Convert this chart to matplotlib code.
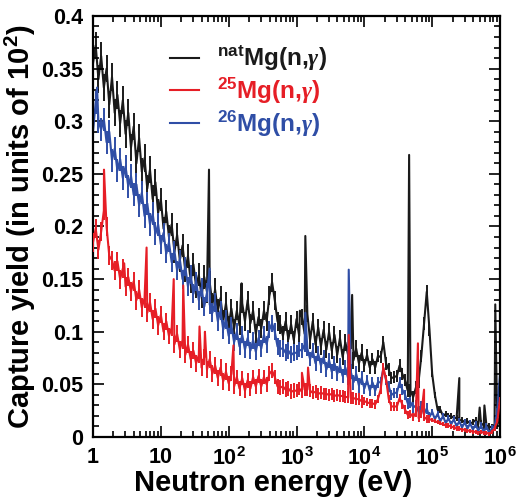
import numpy as np
import matplotlib
matplotlib.use("Agg")
import matplotlib.pyplot as plt
from matplotlib.ticker import FixedLocator, MultipleLocator, LogLocator, NullFormatter

plt.rcParams["font.family"] = ["Liberation Sans", "DejaVu Sans"]
plt.rcParams["font.weight"] = "bold"
plt.rcParams["mathtext.fontset"] = "custom"
plt.rcParams["mathtext.rm"] = "Liberation Sans:bold"
plt.rcParams["mathtext.bf"] = "Liberation Sans:bold"
plt.rcParams["mathtext.it"] = "Liberation Serif:italic"
plt.rcParams["mathtext.default"] = "bf"

# log10 of the bin centres, 0.04 decade bins from 1 eV to 1 MeV
log_e = np.linspace(0, 6, 151)

nat_yield = [
    0.355, 0.372, 0.340, 0.362, 0.332, 0.350, 0.316, 0.342, 0.308, 0.325,
    0.298, 0.320, 0.288, 0.308, 0.275, 0.295, 0.260, 0.284, 0.252, 0.265,
    0.236, 0.254, 0.226, 0.242, 0.213, 0.226, 0.198, 0.214, 0.190, 0.202,
    0.176, 0.192, 0.168, 0.182, 0.158, 0.172, 0.148, 0.164, 0.143, 0.154,
    0.134, 0.152, 0.138, 0.147, 0.126, 0.140, 0.120, 0.132, 0.110, 0.127,
    0.106, 0.122, 0.103, 0.120, 0.106, 0.127, 0.110, 0.130, 0.108, 0.120,
    0.098, 0.114, 0.103, 0.120, 0.110, 0.134, 0.147, 0.130, 0.110, 0.107,
    0.096, 0.110, 0.093, 0.107, 0.092, 0.112, 0.096, 0.114, 0.098, 0.117,
    0.092, 0.110, 0.088, 0.104, 0.086, 0.102, 0.083, 0.100, 0.082, 0.097,
    0.078, 0.094, 0.076, 0.090, 0.078, 0.092, 0.073, 0.084, 0.070, 0.080,
    0.068, 0.078, 0.066, 0.074, 0.066, 0.077, 0.076, 0.090, 0.070, 0.064,
    0.056, 0.057, 0.058, 0.068, 0.060, 0.054, 0.044, 0.044, 0.038, 0.047,
    0.053, 0.077, 0.108, 0.138, 0.102, 0.060, 0.040, 0.026, 0.026, 0.020,
    0.022, 0.020, 0.020, 0.018, 0.018, 0.016, 0.016, 0.014, 0.015, 0.013,
    0.014, 0.016, 0.012, 0.013, 0.011, 0.011, 0.010, 0.009, 0.012, 0.011,
    0.020,
]
mg25_yield = [
    0.185, 0.198, 0.178, 0.195, 0.215, 0.200, 0.172, 0.168, 0.158, 0.167,
    0.150, 0.160, 0.143, 0.152, 0.138, 0.148, 0.130, 0.140, 0.123, 0.132,
    0.118, 0.128, 0.112, 0.122, 0.106, 0.116, 0.100, 0.110, 0.096, 0.104,
    0.088, 0.098, 0.083, 0.092, 0.078, 0.088, 0.074, 0.082, 0.070, 0.078,
    0.066, 0.076, 0.064, 0.074, 0.060, 0.068, 0.056, 0.066, 0.053, 0.062,
    0.051, 0.060, 0.048, 0.057, 0.046, 0.056, 0.044, 0.054, 0.046, 0.057,
    0.048, 0.058, 0.048, 0.057, 0.050, 0.060, 0.063, 0.057, 0.048, 0.047,
    0.048, 0.045, 0.046, 0.043, 0.044, 0.044, 0.046, 0.043, 0.045, 0.045,
    0.044, 0.042, 0.043, 0.041, 0.042, 0.041, 0.041, 0.040, 0.041, 0.039,
    0.040, 0.039, 0.039, 0.038, 0.038, 0.037, 0.037, 0.036, 0.036, 0.034,
    0.034, 0.033, 0.032, 0.032, 0.031, 0.036, 0.045, 0.066, 0.055, 0.036,
    0.029, 0.029, 0.029, 0.037, 0.031, 0.026, 0.021, 0.022, 0.019, 0.023,
    0.018, 0.022, 0.019, 0.017, 0.017, 0.016, 0.015, 0.014, 0.013, 0.012,
    0.011, 0.011, 0.010, 0.009, 0.008, 0.008, 0.007, 0.007, 0.006, 0.006,
    0.005, 0.005, 0.004, 0.005, 0.004, 0.004, 0.003, 0.005, 0.008, 0.015,
    0.036,
]
mg26_yield = [
    0.290, 0.318, 0.300, 0.292, 0.302, 0.280, 0.290, 0.263, 0.274, 0.253,
    0.264, 0.246, 0.257, 0.238, 0.248, 0.230, 0.240, 0.220, 0.232, 0.210,
    0.222, 0.202, 0.212, 0.193, 0.202, 0.183, 0.194, 0.174, 0.185, 0.166,
    0.177, 0.158, 0.169, 0.150, 0.162, 0.143, 0.154, 0.136, 0.148, 0.130,
    0.142, 0.124, 0.137, 0.126, 0.118, 0.128, 0.110, 0.120, 0.102, 0.112,
    0.096, 0.106, 0.090, 0.100, 0.086, 0.097, 0.083, 0.094, 0.082, 0.092,
    0.081, 0.094, 0.084, 0.097, 0.088, 0.102, 0.108, 0.100, 0.086, 0.084,
    0.084, 0.080, 0.082, 0.078, 0.080, 0.080, 0.083, 0.082, 0.088, 0.084,
    0.074, 0.082, 0.070, 0.079, 0.068, 0.076, 0.064, 0.073, 0.062, 0.070,
    0.060, 0.068, 0.058, 0.066, 0.056, 0.062, 0.052, 0.060, 0.049, 0.056,
    0.046, 0.054, 0.044, 0.052, 0.044, 0.052, 0.052, 0.065, 0.054, 0.048,
    0.040, 0.042, 0.042, 0.052, 0.045, 0.040, 0.032, 0.033, 0.028, 0.030,
    0.024, 0.029, 0.022, 0.027, 0.019, 0.024, 0.017, 0.022, 0.015, 0.020,
    0.013, 0.018, 0.012, 0.017, 0.010, 0.015, 0.009, 0.014, 0.008, 0.013,
    0.007, 0.012, 0.006, 0.011, 0.005, 0.010, 0.004, 0.008, 0.010, 0.025,
    0.060,
]

# statistical error bar (half length) per decade, 1-10 eV ... 0.1-1 MeV
nat_err = [0.013, 0.011, 0.009, 0.008, 0.006, 0.003]
mg25_err = [0.009, 0.008, 0.007, 0.006, 0.004, 0.002]
mg26_err = [0.011, 0.009, 0.008, 0.007, 0.005, 0.003]

# narrow resonances (log10 E, yield)
nat_peak_log = [1.71, 2.19, 3.05, 3.13, 3.82, 4.66, 5.40, 5.70, 5.77, 5.93]
nat_peak_y = [0.254, 0.146, 0.120, 0.191, 0.135, 0.268, 0.056, 0.028, 0.030, 0.126]
mg25_peak_log = [0.162, 0.46, 0.79, 1.19, 1.33, 1.57, 1.65, 2.07, 3.08, 3.17, 3.77, 4.79, 4.88]
mg25_peak_y = [0.254, 0.165, 0.180, 0.150, 0.144, 0.105, 0.100, 0.087, 0.061, 0.066, 0.097, 0.089, 0.045]
mg26_peak_log = [0.06, 1.72, 3.13, 3.77]
mg26_peak_y = [0.332, 0.160, 0.118, 0.159]

labels = [r"$^{nat}$Mg(n,$\mathit{\gamma}$)", r"$^{25}$Mg(n,$\mathit{\gamma}$)",
          r"$^{26}$Mg(n,$\mathit{\gamma}$)"]
colors = ["#1a1a1a", "#e61e26", "#2f4ea6"]


def merge(base, err, plog, py):
    dec = np.minimum(log_e.astype(int), 5)
    lg = np.concatenate([log_e, plog])
    yy = np.concatenate([base, py])
    ee = np.concatenate([np.array(err)[dec], np.zeros(len(py))])
    order = np.argsort(lg)
    return 10 ** lg[order], yy[order], ee[order]


fig = plt.figure(figsize=(5.26, 4.99), dpi=100)
ax = fig.add_axes([0.1768, 0.1242, 0.7738, 0.8438])

series = [
    (nat_yield, nat_err, nat_peak_log, nat_peak_y),
    (mg25_yield, mg25_err, mg25_peak_log, mg25_peak_y),
    (mg26_yield, mg26_err, mg26_peak_log, mg26_peak_y),
]
lines = []
for (base, err, plog, py), lab, col, z in zip(series, labels, colors, [1, 3, 2]):
    x, y, e = merge(base, err, plog, py)
    ax.errorbar(x, y, yerr=e, fmt="none", ecolor=col, elinewidth=1.4, zorder=z)
    ln, = ax.plot(x, y, color=col, lw=1.5, label=lab, zorder=z)
    lines.append(ln)

ax.set_xscale("log")
ax.set_xlim(1, 1e6)
ax.set_ylim(0, 0.4)

ax.xaxis.set_major_locator(FixedLocator([1, 10, 1e2, 1e3, 1e4, 1e5, 1e6]))
ax.set_xticklabels(["1", "10", "10$^{2}$", "10$^{3}$", "10$^{4}$", "10$^{5}$", "10$^{6}$"])
ax.xaxis.set_minor_locator(LogLocator(base=10, subs=np.arange(2, 10), numticks=20))
ax.xaxis.set_minor_formatter(NullFormatter())
ax.yaxis.set_major_locator(MultipleLocator(0.05))
ax.yaxis.set_minor_locator(MultipleLocator(0.01))
ax.set_yticklabels([f"{v:g}" for v in ax.get_yticks()])

ax.tick_params(which="both", direction="in", top=True, right=True, labelsize=15.5, width=1.2)
ax.tick_params(which="major", length=8, pad=7)
ax.tick_params(which="minor", length=4)
for lab in ax.get_xticklabels() + ax.get_yticklabels():
    lab.set_fontweight("bold")
for sp in ax.spines.values():
    sp.set_linewidth(1.6)

ax.set_xlabel("Neutron energy (eV)", fontsize=21, fontweight="bold", labelpad=0)
ax.xaxis.set_label_coords(0.442, -0.075)
ax.set_ylabel("Capture yield (in units of 10$^{2}$)", fontsize=21, fontweight="bold", labelpad=2)

leg = ax.legend(handles=lines, loc="upper left", bbox_to_anchor=(0.135, 0.985), frameon=False,
                handlelength=1.2, handletextpad=0.75, labelspacing=0.1,
                prop={"size": 17.5, "weight": "bold"})
for t, col in zip(leg.get_texts(), colors):
    t.set_color(col)

fig.savefig("out.png", dpi=100)
